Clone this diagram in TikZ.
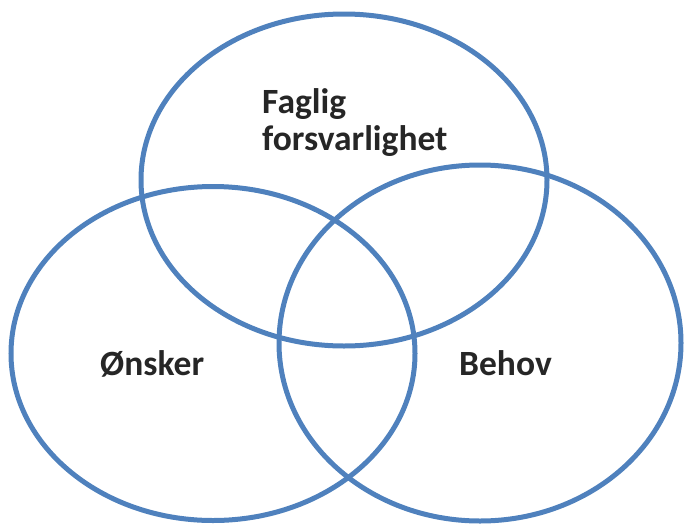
\documentclass[tikz,border=0pt]{standalone}
\usepackage{fontspec}
\setmainfont{Carlito}
\definecolor{ringblue}{RGB}{79,129,189}
\begin{document}
\begin{tikzpicture}[x=1pt,y=-1pt,
  ring/.style={draw=ringblue, line width=5pt},
  lbl/.style={font=\fontsize{35.5}{38}\selectfont\bfseries, inner sep=0pt, anchor=base west, text=black!85}]
\useasboundingbox (0,0) rectangle (688,528);
\draw[ring] (344,180) ellipse [x radius=203pt, y radius=166pt];
\draw[ring] (213,353.5) ellipse [x radius=202pt, y radius=167pt];
\draw[ring] (480,343) ellipse [x radius=201pt, y radius=178pt];
\node[lbl] (f1) at (262,113) {Faglig};
\node[lbl] (f2) at (262,150) {forsvarlighet};
\node[lbl] (on) at (100,375) {Ønsker};
\node[lbl] (be) at (459,375) {Behov};
\end{tikzpicture}
\end{document}
